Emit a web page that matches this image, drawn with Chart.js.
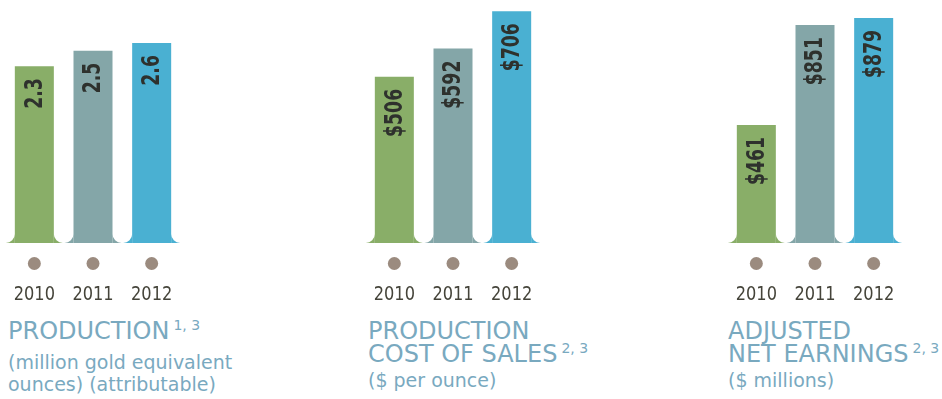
<!DOCTYPE html>
<html>
<head>
<meta charset="utf-8">
<script src="https://cdn.jsdelivr.net/npm/chart.js@4.4.1/dist/chart.umd.min.js"></script>
<style>
  html, body { margin: 0; padding: 0; background: #fff; }
  body { width: 942px; height: 399px; position: relative; overflow: hidden; }
  .panel { position: absolute; top: 0; width: 176px; height: 310px; }
  .caption {
    position: absolute; top: 320px; color: #79a9bf;
    font-family: "DejaVu Sans", sans-serif; white-space: nowrap;
  }
  .caption .head { font-size: 24px; line-height: 22.5px; }
  .caption .sub { font-size: 19px; line-height: 22.5px; }
  .caption sup { font-size: 14px; vertical-align: 0; position: relative; top: -9px; margin-left: 4px; }
</style>
</head>
<body>
<div class="panel" style="left:5px"><canvas id="prodChart" width="176" height="310"></canvas></div>
<div class="panel" style="left:365px"><canvas id="costChart" width="176" height="310"></canvas></div>
<div class="panel" style="left:727px"><canvas id="earnChart" width="176" height="310"></canvas></div>

<div class="caption" style="left:8px">
  <div class="head">PRODUCTION<sup>1, 3</sup></div>
  <div class="sub" style="margin-top:5px">(million gold equivalent</div>
  <div class="sub">ounces) (attributable)</div>
</div>
<div class="caption" style="left:368px">
  <div class="head">PRODUCTION</div>
  <div class="head">COST OF SALES<sup>2, 3</sup></div>
  <div class="sub" style="margin-top:1px">($ per ounce)</div>
</div>
<div class="caption" style="left:728px">
  <div class="head">ADJUSTED</div>
  <div class="head">NET EARNINGS<sup>2, 3</sup></div>
  <div class="sub" style="margin-top:1px">($ millions)</div>
</div>

<script>
// years and values for the three panels
const years = ['2010', '2011', '2012'];
const productionOz = [2.3, 2.5, 2.6];        // million gold equivalent ounces
const costOfSales = [506, 592, 706];          // $ per ounce
const adjustedEarnings = [461, 851, 879];     // $ millions

const barColors = ['#89ae68', '#84a6a8', '#4ab0d2'];
const narrowFont = '"DejaVu Sans Condensed", "DejaVu Sans", sans-serif';

// draws the flared foot of each bar, the rotated value label,
// and the dot + year under every bar
function makeBarDecor(format) {
  return {
    id: 'barDecor',
    afterDatasetsDraw(chart) {
      const ctx = chart.ctx;
      const ds = chart.data.datasets[0];
      const r = 9;
      chart.getDatasetMeta(0).data.forEach((bar, i) => {
        const p = bar.getProps(['x', 'y', 'base', 'width'], true);
        const x0 = p.x - p.width / 2;
        const x1 = p.x + p.width / 2;
        ctx.save();
        ctx.fillStyle = ds.backgroundColor[i];
        ctx.beginPath();
        ctx.moveTo(x0, p.base - r);
        ctx.lineTo(x0, p.base);
        ctx.lineTo(x0 - r, p.base);
        ctx.arc(x0 - r, p.base - r, r, Math.PI / 2, 0, true);
        ctx.closePath();
        ctx.fill();
        ctx.beginPath();
        ctx.moveTo(x1, p.base - r);
        ctx.arc(x1 + r, p.base - r, r, Math.PI, Math.PI / 2, true);
        ctx.lineTo(x1, p.base);
        ctx.closePath();
        ctx.fill();

        // value label, reading upward from inside the top of the bar
        ctx.translate(p.x, p.y + 12);
        ctx.rotate(-Math.PI / 2);
        ctx.scale(0.8, 1);
        ctx.fillStyle = '#2e312d';
        ctx.font = 'bold 24px ' + narrowFont;
        ctx.textAlign = 'right';
        ctx.textBaseline = 'middle';
        ctx.fillText(format(ds.data[i]), 0, 1);
        ctx.restore();
      });
    },
    afterDraw(chart) {
      const ctx = chart.ctx;
      const xs = chart.scales.x;
      const bottom = chart.chartArea.bottom;
      chart.data.labels.forEach((year, i) => {
        const x = xs.getPixelForValue(i);
        ctx.save();
        ctx.fillStyle = '#9b8b7f';
        ctx.beginPath();
        ctx.arc(x, bottom + 20.5, 6.5, 0, Math.PI * 2);
        ctx.fill();
        ctx.translate(x, bottom + 52);
        ctx.scale(0.9, 1);
        ctx.fillStyle = '#45443a';
        ctx.font = '20px ' + narrowFont;
        ctx.textAlign = 'center';
        ctx.textBaseline = 'middle';
        ctx.fillText(year, 0, 0);
        ctx.restore();
      });
    }
  };
}

function buildChart(id, values, yMax, format) {
  const ctx = document.getElementById(id).getContext('2d');
  return new Chart(ctx, {
    type: 'bar',
    data: {
      labels: years,
      datasets: [{
        data: values,
        backgroundColor: barColors,
        borderWidth: 0,
        barPercentage: 0.665,
        categoryPercentage: 1
      }]
    },
    options: {
      responsive: false,
      animation: false,
      devicePixelRatio: 1,
      layout: { padding: { top: 0, bottom: 67, left: 0, right: 0 } },
      plugins: { legend: { display: false }, tooltip: { enabled: false } },
      scales: {
        x: { display: false },
        y: { display: false, min: 0, max: yMax }
      }
    },
    plugins: [makeBarDecor(format)]
  });
}

buildChart('prodChart', productionOz, 3.16, v => v.toFixed(1));
buildChart('costChart', costOfSales, 740, v => '$' + v);
buildChart('earnChart', adjustedEarnings, 949, v => '$' + v);
</script>
</body>
</html>
